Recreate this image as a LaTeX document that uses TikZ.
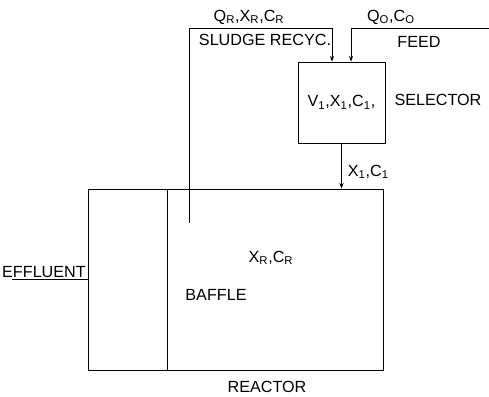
\documentclass[tikz,border=0pt]{standalone}
\usepackage{fontspec}
\setmainfont{Liberation Sans}
\usetikzlibrary{arrows.meta,positioning,calc}

\begin{document}
\begin{tikzpicture}[>={Stealth[length=4pt,width=3pt]},font=\fontsize{11.5}{13.5}\selectfont,line width=0.6pt]
\tikzstyle{tank}=[draw,inner sep=0pt]
\tikzstyle{lbl}=[inner sep=1pt]
\useasboundingbox (0,0) rectangle (12.225,9.925);
% vessels
\node[tank,minimum width=7.375cm,minimum height=4.525cm] (reactor) at (5.8875,2.9375) {};
\node[tank,minimum width=2.175cm,minimum height=2.025cm] (sel) at (8.5375,7.3625) {V\textsubscript{1},X\textsubscript{1},C\textsubscript{1},};
\coordinate (baffletop) at ($(reactor.north west)+(2,0)$);
\draw (baffletop) -- (baffletop |- reactor.south);
% pipes
\coordinate (rin) at (4.725,4.35);
\coordinate (rtop) at (8.3,9.225);
\coordinate (feedin) at (12.225,9.225);
\draw[->] (rin) |- (rtop) -- (rtop |- sel.north);
\draw[->] (feedin) -| ($(sel.north)+(0.2375,0)$);
\draw[->] (sel.south) -- (sel.south |- reactor.north);
\coordinate (effout) at (0.3,2.9375);
\draw (reactor.west) -- (effout);
% labels
\node[lbl] (qr) at (6.225,9.5) {Q\textsubscript{R},X\textsubscript{R},C\textsubscript{R}};
\node[lbl] (recyc) at (6.625,8.925) {SLUDGE RECYC.};
\node[lbl] (qo) at (9.775,9.5) {Q\textsubscript{O},C\textsubscript{O}};
\node[lbl] (feed) at (10.475,8.875) {FEED};
\node[lbl] (selname) at (10.95,7.425) {SELECTOR};
\node[lbl,anchor=west] (x1) at (8.65,5.625) {X\textsubscript{1},C\textsubscript{1}};
\node[lbl] (xr) at (6.775,3.475) {X\textsubscript{R},C\textsubscript{R}};
\node[lbl] (baffle) at (5.4,2.55) {BAFFLE};
\node[lbl] (reactorname) at (6.675,0.25) {REACTOR};
\node[lbl,anchor=south east] (effl) at (reactor.west) {EFFLUENT};
\end{tikzpicture}
\end{document}
